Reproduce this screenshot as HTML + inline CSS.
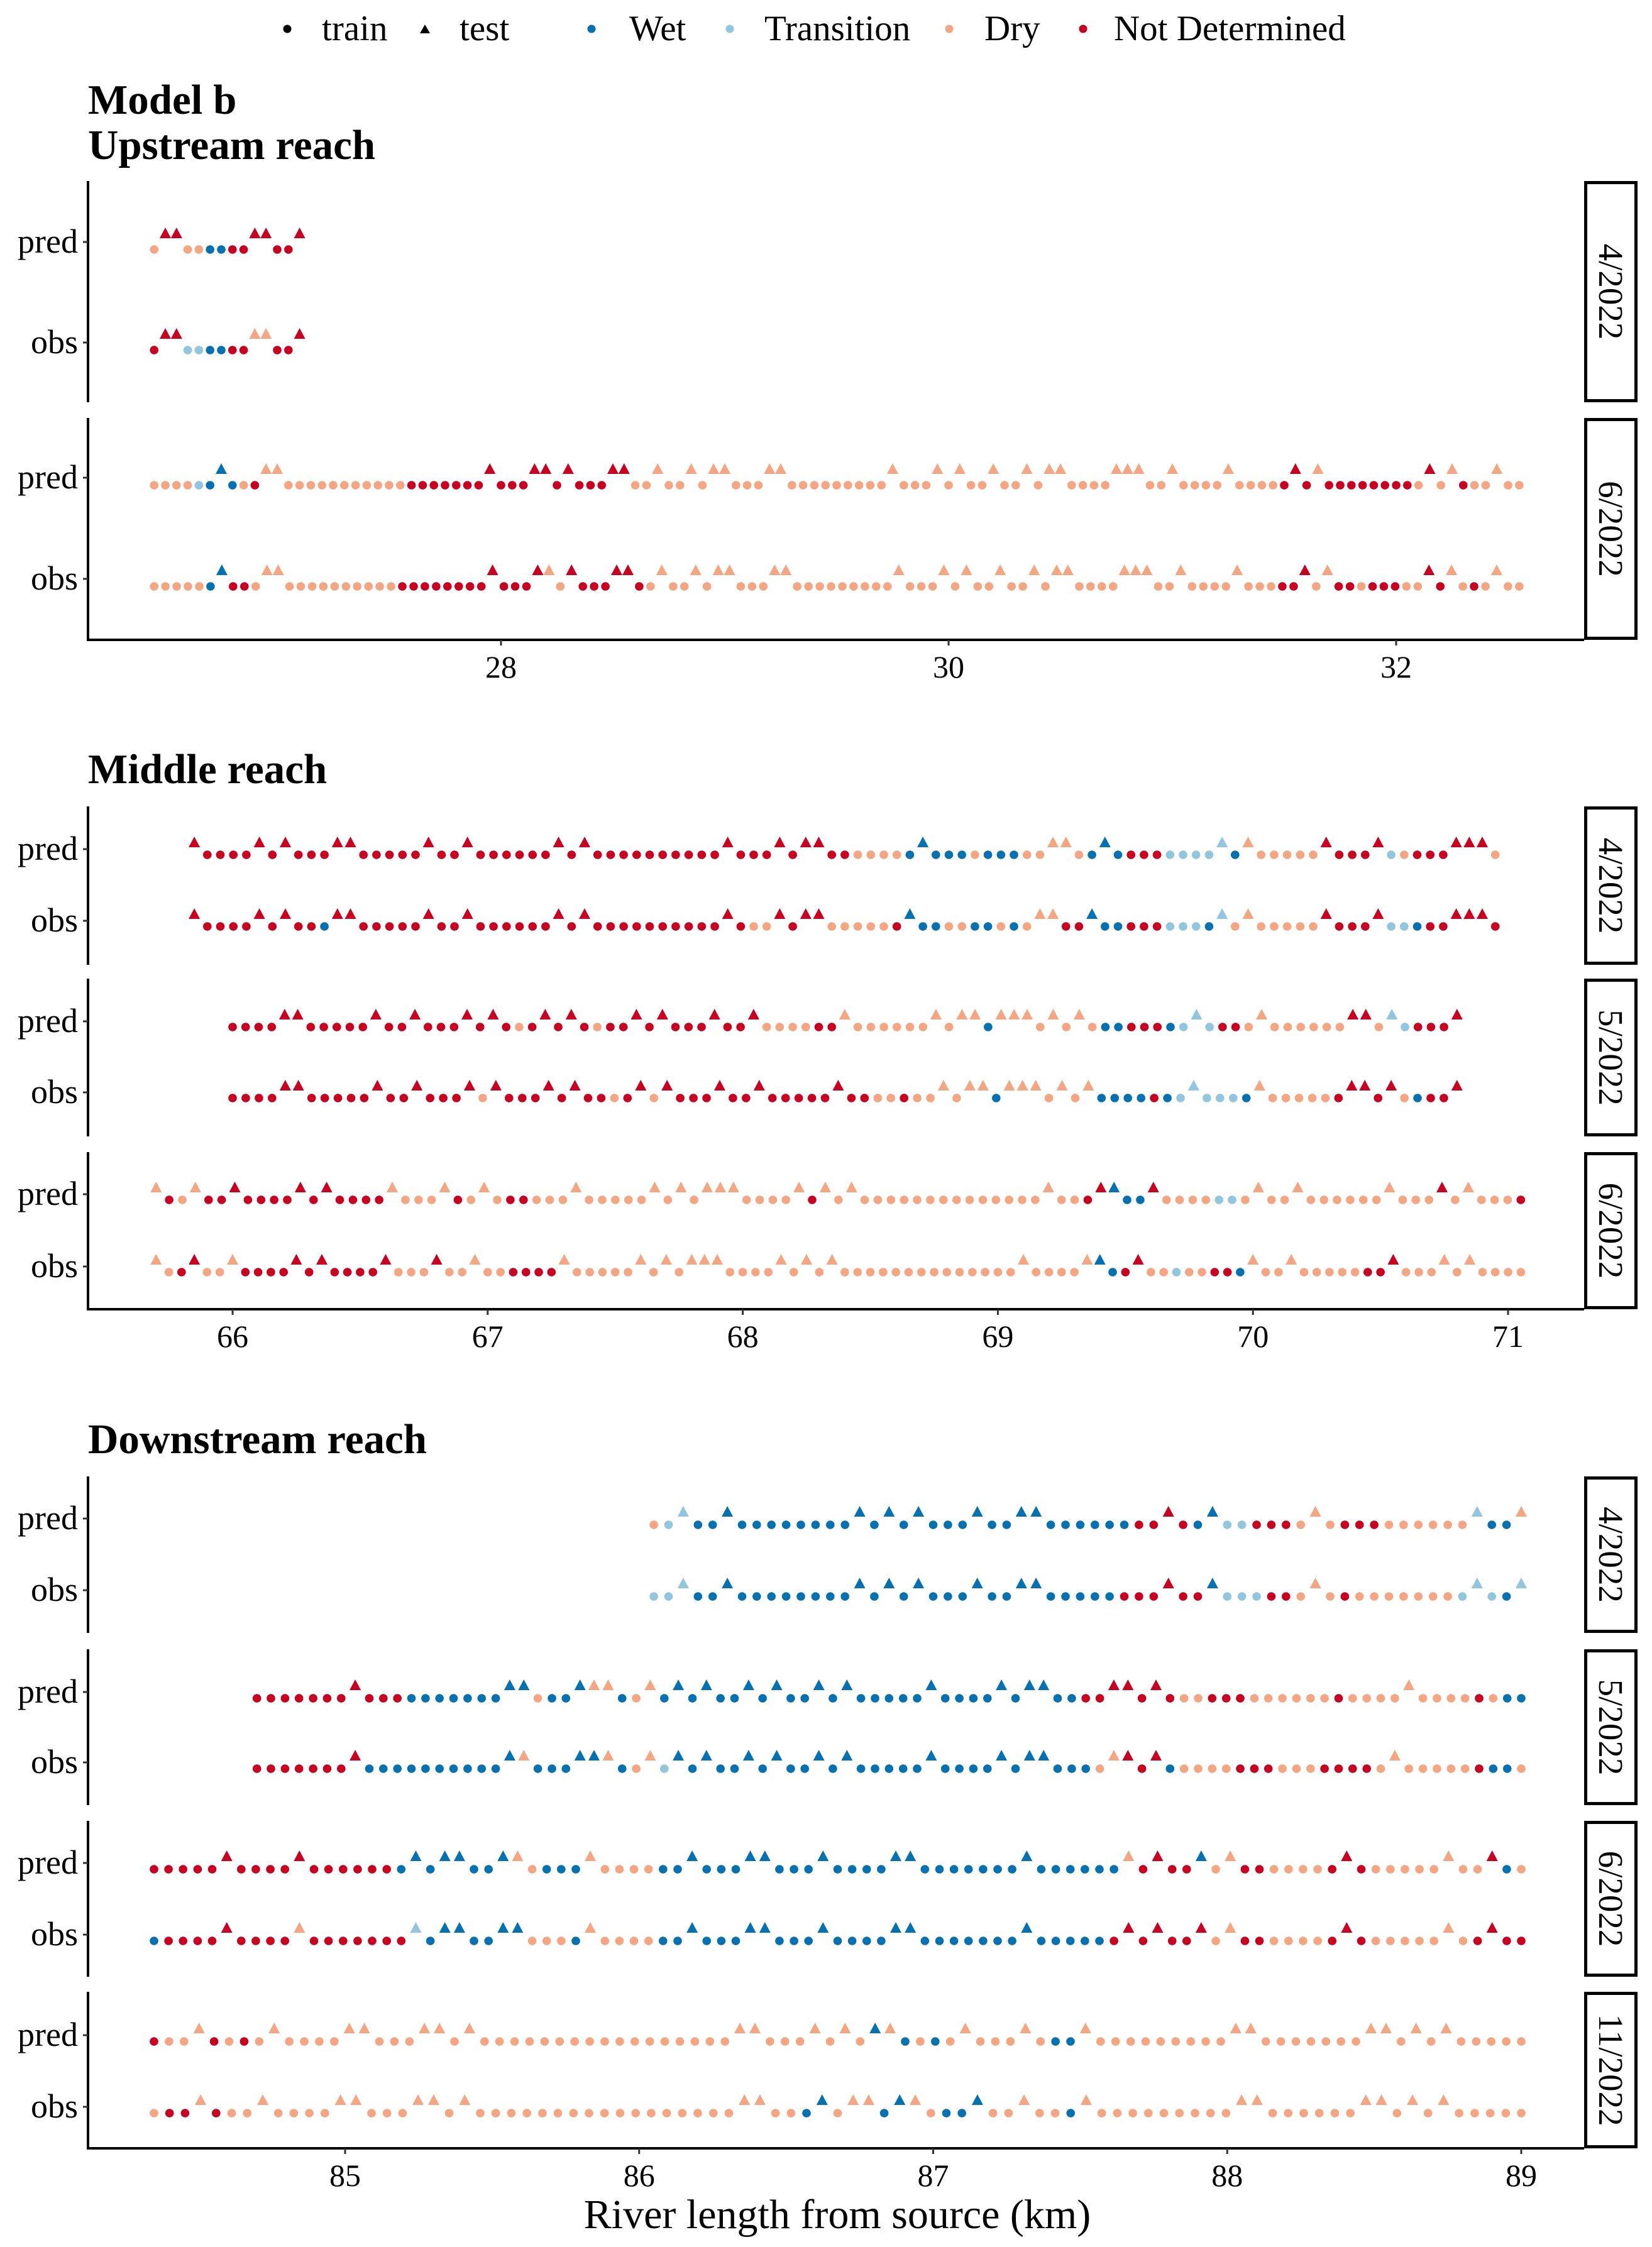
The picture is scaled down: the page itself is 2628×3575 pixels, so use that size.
<!DOCTYPE html>
<html><head><meta charset="utf-8"><title>Model b river state</title>
<style>
html,body{margin:0;padding:0;background:#fff;}
svg{display:block;font-family:"Liberation Serif",serif;}
</style></head>
<body>
<svg id="chart" width="2628" height="3575" viewBox="0 0 2628 3575" xmlns="http://www.w3.org/2000/svg">
<g id="legend" font-size="57">
  <circle cx="457" cy="46" r="6.5" fill="#000"/>
  <text x="512" y="64">train</text>
  <polygon points="668,53 684,53 676,39" fill="#000"/>
  <text x="731" y="64">test</text>
  <circle cx="941" cy="46" r="6.5" fill="#0571b0"/>
  <text x="1001" y="64">Wet</text>
  <circle cx="1161" cy="46" r="6.5" fill="#92c5de"/>
  <text x="1216" y="64">Transition</text>
  <circle cx="1510" cy="46" r="6.5" fill="#f4a582"/>
  <text x="1566" y="64">Dry</text>
  <circle cx="1723" cy="46" r="6.5" fill="#ca0020"/>
  <text x="1772" y="64">Not Determined</text>
</g>
<g id="plots"></g>
</svg>
<script>
// ---- data: one character per sampling point (d/r/w/t = train Dry/ND/Wet/Transition; upper case = test)
const upKm = [26.45, 26.45, 26.45, 26.45];
const upEndKm = [27.1, 27.1, 32.55, 32.55];
const upRows = [
 "dRRddwwrrRRrrR",
 "rRRttwwrrDDrrR",
 "ddddtwWwdrDDdddddddddddrrrrrrrRrrrRRrRrrrRRddDddDdDDdddDDdddddddddDdddDdDddDddDdDDddddDDDddDddddDddddrRrDrrrrrrrrdRdDrddDdd",
 "dddddwWrrdDDddddddddddrrrrrrrrRrrrRDdRrrrRRrdDddDdDDdddDDdddddddddDdddDdDddDddDdDDddddDDDddDddddDdddrrRdDrrdrrrddRrDdrdDdd"
];
const midKm = [65.85, 65.85, 66.0, 66.0, 65.7, 65.7];
const midEndKm = [70.95, 70.95, 70.8, 70.8, 71.05, 71.05];
const midRows = [
 "RrrrrRrRrrrRRrrrrrRrrRrrrrrrRrRrrrrrrrrrrRrrrRrRRrrddddwWwwwdwwwddDDdwWwrrrttttTwDdddddRrrrRtdrrrRRRd",
 "RrrrrRrRrrwRRrrrrrRrrRrrrrrrRrRrrrrrrrrrrRrddRrRRdddddrWwwddwwdwdDDrrWwwrrrtttwTdDdddddRrrrRttwrrRRRr",
 "rrrrRRrrrrrRrrRrrrRrRrdrRrRrdrrRrRrrrRrrRddddrrDddddddDdDDwDDDdDdDdwwrrrwtTtrrdDddddddRRdTtrrrR",
 "rrrrRRrrrrrRrrRrrrRdRrrrRrRrrdrRdRrrrRrrRrrrrrRrrddrddDdDDwDDDdDdDwwwwrwtTtttwDdddddrRRrRdwrrR",
 "DrdDrrRrrrrRrRrrrrDdddDrdDdrrdddDdddddDdDdDDDddddDrDdDddddddddddddddDddrRWwwRddddttdDddDddddddDdddRdDdddr",
 "DdrRddDrrrrRrRrrrrRdddRddDddrrrrDdddddDdDdDDDddddDdDdDddddddddddddddDddddDWwrRddtddrrwDddDdddddrrRdddDdDdddd"
];
const downKm = [86.05, 86.05, 84.7, 84.7, 84.35, 84.35, 84.35, 84.35];
const downEndKm = [89.0, 89.0, 89.0, 89.0, 89.0, 89.0, 89.0, 89.0];
const downRows = [
 "dtTwwWwwwwwwwwWwWwWwwwWwwWWwwwwwwrrRrwWttrrrdDdrrrddddddTwwD",
 "ttTwwWwwwwwwwwWwWwWwwwWwwWWwwwwwrrrRrrWtttrrdDdrdddddddtTtwT",
 "rrrrrrrRrrrwwwwwwwWWdwwWDDwdDwWwWwwWwWwwWwWwwwwwWwwwwWwWWwwrrRRrRrddrrrddddddrddddDddddrdww",
 "rrrrrrrRwwwwwwwwwwWDwwwWWDwdDtWwWwwWwWwwWwWwwwwwWwwwwWwWWwwwdDRrRwddddrrrdddrrrrdDdddddrwwd",
 "rrrrrRrrrrRrrrrrrwWwWWwwWDdwwwDddddwwWwwwWWwwwWwwwwWWwwwwwwwWwwwwwwDrRrrWdDrrddddrRrdddddDddRwd",
 "wrrrrRrrrrDrrrrrrrTwWWwwWWdddwDddddwwWwwwWWwwwWwwwwWWwwwwwwwWwwwwwrRrRrrRdDrrddddrRrdddddDdrRrr",
 "rddDrdrdDddddDDdddDDdDdddddddddddddddddDDdddDdDdWDwdwdDdddDdwwDdddddddddDDdddddddDDdDdDddddd",
 "drrDrddDddddDDdddDDdDdddddddddddddddddDDddwWdDDwWDdwwWddDddwDdddddddddDDddddddDDdDdDddddd"
];
const upTicks = [28, 30, 32];
const midTicks = [66, 67, 68, 69, 70, 71];
const downTicks = [85, 86, 87, 88, 89];
const upFacets = ["4/2022", "6/2022"];
const midFacets = ["4/2022", "5/2022", "6/2022"];
const downFacets = ["4/2022", "5/2022", "6/2022", "11/2022"];

// ---- layout
const NS = "http://www.w3.org/2000/svg";
const COL = {d:"#f4a582", r:"#ca0020", w:"#0571b0", t:"#92c5de"};
const AXL = 140, AXR = 2520, STRIP_X = 2520, STRIP_W = 85;
const root = document.getElementById('plots');
function mk(tag, attrs, parent) {
  const e = document.createElementNS(NS, tag);
  for (const k in attrs) e.setAttribute(k, attrs[k]);
  (parent || root).appendChild(e);
  return e;
}
function makeScale(k0, px0, k1, px1) { return k => px0 + (k - k0) * (px1 - px0) / (k1 - k0); }

function panel(cfg) {
  const g = mk('g', {});
  
  
  cfg.titles.forEach((t, i) => {
    const tx = mk('text', {x: 140, y: cfg.titleY[i], 'font-size': 67, 'font-weight': 'bold'}, g);
    tx.textContent = t;
    
    
  });
  const x = cfg.x;
  const bottom = cfg.facets[cfg.facets.length - 1][1];
  cfg.facets.forEach((f, fi) => {
    const [top, bot, predY, obsY] = f;
    const ax = mk('line', {x1: AXL, y1: top, x2: AXL, y2: bot, stroke: '#000', 'stroke-width': 4}, g);
    
    
    [[predY, 'pred'], [obsY, 'obs']].forEach(([yy, lab]) => {
      const tk = mk('line', {x1: AXL - 8, y1: yy, x2: AXL, y2: yy, stroke: '#333', 'stroke-width': 3}, g);
      
      
      const tl = mk('text', {x: AXL - 16, y: yy + 17, 'font-size': 54, 'text-anchor': 'end'}, g);
      tl.textContent = lab;
      
      
    });
    const sb = mk('rect', {x: STRIP_X + 2.5, y: top + 2.5, width: STRIP_W - 5, height: bot - top - 5, fill: '#fff', stroke: '#000', 'stroke-width': 5}, g);
    
    
    const cy = (top + bot) / 2, cx = STRIP_X + STRIP_W / 2;
    const st = mk('text', {x: cx, y: cy, 'font-size': 55, 'text-anchor': 'middle', 'dominant-baseline': 'central', transform: `rotate(90 ${cx} ${cy})`}, g);
    st.textContent = cfg.facetLabels[fi];
    
    
    [[cfg.rows[fi * 2], predY], [cfg.rows[fi * 2 + 1], obsY]].forEach(([ri, yy]) => {
      const s = cfg.data[ri], k0 = cfg.km[ri], k1 = cfg.endKm[ri];
      const n = s.length;
      for (let i = 0; i < n; i++) {
        const ch = s[i];
        const km = k0 + (k1 - k0) * i / (n - 1);
        const px = x(km);
        const col = COL[ch.toLowerCase()];
        let m;
        if (ch === ch.toLowerCase()) {
          m = mk('circle', {cx: px.toFixed(1), cy: yy + cfg.dc, r: 6.8, fill: col}, g);
          
        } else {
          const ty = yy + cfg.dt;
          m = mk('polygon', {points: `${(px-9).toFixed(1)},${ty+8} ${(px+9).toFixed(1)},${ty+8} ${px.toFixed(1)},${ty-9}`, fill: col}, g);
          
        }
        
      }
    });
  });
  const xl = mk('line', {x1: AXL - 2, y1: bottom, x2: AXR, y2: bottom, stroke: '#000', 'stroke-width': 4}, g);
  
  
  cfg.ticks.forEach(t => {
    const px = x(t);
    const tk = mk('line', {x1: px, y1: bottom, x2: px, y2: bottom + 9, stroke: '#333', 'stroke-width': 3}, g);
    
    
    const tl = mk('text', {x: px, y: bottom + 60, 'font-size': 50, 'text-anchor': 'middle'}, g);
    tl.textContent = t;
    
    
  });
}

panel({name: 'upstream-panel', titles: ['Model b', 'Upstream reach'], titleY: [181, 253],
  x: makeScale(28, 797, 32, 2221), facets: [[288, 640, 385, 545], [665, 1018, 760, 921]],
  facetLabels: upFacets, rows: [0, 1, 2, 3], data: upRows, km: upKm, endKm: upEndKm, ticks: upTicks, dc: 12, dt: -14});
panel({name: 'middle-panel', titles: ['Middle reach'], titleY: [1246],
  x: makeScale(66, 370, 71, 2399), facets: [[1283, 1535, 1351, 1465], [1557, 1808, 1625, 1738], [1833, 2083, 1900, 2015]],
  facetLabels: midFacets, rows: [0, 1, 2, 3, 4, 5], data: midRows, km: midKm, endKm: midEndKm, ticks: midTicks, dc: 9, dt: -11});
panel({name: 'downstream-panel', titles: ['Downstream reach'], titleY: [2312],
  x: makeScale(85, 549, 89, 2420), facets: [[2349, 2598, 2416, 2530], [2624, 2872, 2692, 2804], [2897, 3145, 2964, 3078], [3169, 3418, 3238, 3352]],
  facetLabels: downFacets, rows: [0, 1, 2, 3, 4, 5, 6, 7], data: downRows, km: downKm, endKm: downEndKm, ticks: downTicks, dc: 10, dt: -11});

const at = mk('text', {x: 1332, y: 3545, 'font-size': 66, 'text-anchor': 'middle'});
at.textContent = 'River length from source (km)';


</script>
</body></html>
